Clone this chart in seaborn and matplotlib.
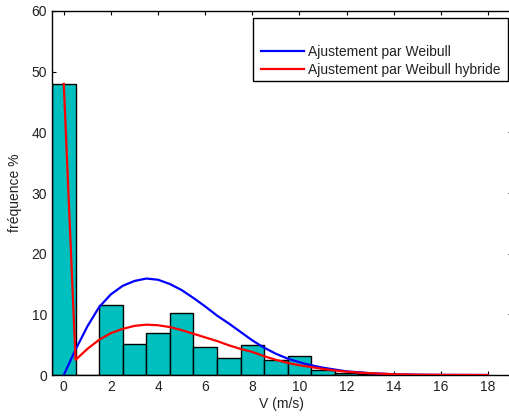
import matplotlib
matplotlib.use("Agg")
import matplotlib.pyplot as plt
import seaborn as sns
import pandas as pd
from matplotlib.lines import Line2D
from matplotlib.patches import Rectangle

# ---- data ----
bin_centers = [0, 1, 2, 3, 4, 5, 6, 7, 8, 9, 10, 11, 12, 13]
bin_freq = [48.0, 0.0, 11.5, 5.1, 7.0, 10.3, 4.6, 2.8, 4.9, 2.5, 3.2, 0.9, 0.4, 0.1]

curve_v = [0, 0.5, 1, 1.5, 2, 2.5, 3, 3.5, 4, 4.5, 5, 5.5, 6, 6.5, 7, 7.5, 8, 8.5,
           9, 9.5, 10, 10.5, 11, 11.5, 12, 12.5, 13, 14, 15, 16, 17, 18]
weibull = [0.0, 4.2, 8.0, 11.2, 13.3, 14.7, 15.5, 15.9, 15.7, 15.0, 14.0, 12.7,
           11.3, 9.8, 8.5, 7.1, 5.7, 4.5, 3.5, 2.7, 2.1, 1.6, 1.2, 0.9, 0.6, 0.45,
           0.3, 0.12, 0.05, 0.02, 0.01, 0.0]
weibull_hybride = [48.0, 2.5, 4.3, 5.8, 6.9, 7.6, 8.1, 8.3, 8.2, 7.9, 7.4, 6.8,
                   6.2, 5.6, 4.9, 4.3, 3.8, 3.1, 2.5, 2.0, 1.6, 1.3, 1.0, 0.75,
                   0.55, 0.4, 0.3, 0.12, 0.05, 0.02, 0.01, 0.0]

x_ticks = [0, 2, 4, 6, 8, 10, 12, 14, 16, 18]
y_ticks = [0, 10, 20, 30, 40, 50, 60]
labels = ["Ajustement par Weibull", "Ajustement par Weibull hybride"]

plt.rcParams['font.family'] = ['Liberation Sans', 'DejaVu Sans']

W, H = 510, 419
fig = plt.figure(figsize=(W / 100, H / 100), dpi=100)
ax = fig.add_axes([52 / W, 44 / H, (511.6 - 52) / W, 364 / H])

df_bars = pd.DataFrame({"v": bin_centers, "f": bin_freq})
sns.barplot(data=df_bars, x="v", y="f", native_scale=True, width=1,
            color="#00BFBF", saturation=1, edgecolor="black", linewidth=1.0,
            ax=ax, zorder=2)

df_c = pd.DataFrame({"v": curve_v, "w": weibull, "h": weibull_hybride})
sns.lineplot(data=df_c, x="v", y="w", color="#0000FF", linewidth=1.6, ax=ax,
             zorder=3, legend=False)
sns.lineplot(data=df_c, x="v", y="h", color="#FF0000", linewidth=1.6, ax=ax,
             zorder=4, legend=False)

ax.set_xlim(-0.5, 19)
ax.set_ylim(0, 60)
ax.set_xticks(x_ticks)
ax.set_yticks(y_ticks)
ax.tick_params(direction="in", top=True, right=True, length=3, width=0.8,
               labelsize=10, colors="black", labelcolor="#222222", pad=3.5)
for s in ax.spines.values():
    s.set_linewidth(1.0)
    s.set_color("black")
ax.set_xlabel("V (m/s)", fontsize=10, labelpad=2, color="#222222")
ax.set_ylabel("fréquence %", fontsize=10, labelpad=7, color="#222222")

# legend frame (MATLAB-style box with empty space on top)
frame = Rectangle((253 / W, 1 - 81 / H), 255 / W, 63 / H,
                  transform=fig.transFigure, facecolor="white",
                  edgecolor="black", linewidth=1.0, zorder=4)
fig.add_artist(frame)

handles = [Line2D([], [], color="#0000FF", linewidth=1.6),
           Line2D([], [], color="#FF0000", linewidth=1.6)]
leg = fig.legend(handles, labels, loc="center left",
                 bbox_to_anchor=(261 / W, 1 - 60.9 / H), frameon=False,
                 fontsize=10, handlelength=3.1, handletextpad=0.3,
                 borderpad=0, labelspacing=0.3, borderaxespad=0)
leg.set_zorder(5)
for t in leg.get_texts():
    t.set_color("#222222")

fig.savefig("out.png", dpi=100)
